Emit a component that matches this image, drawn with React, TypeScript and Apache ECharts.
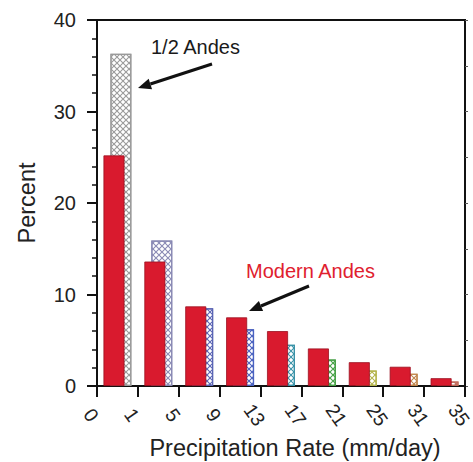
import React, { useEffect, useRef } from "react";
import * as echarts from "echarts";

const bins = ["0-1", "1-5", "5-9", "9-13", "13-17", "17-21", "21-25", "25-31", "31-35"];
const tickLabels = ["0", "1", "5", "9", "13", "17", "21", "25", "31", "35"];
const modernAndes = [25.2, 13.6, 8.7, 7.5, 6.0, 4.1, 2.6, 2.1, 0.85];
const halfAndes = [36.3, 15.9, 8.5, 6.2, 4.5, 2.9, 1.7, 1.35, 0.5];
const hatchColors = ["#9a9a9a", "#8a8ab4", "#5a64b4", "#4a62c0", "#3a92a8", "#46a046", "#b4b44c", "#c0844a", "#c06a5a"];

const FONT = "Liberation Sans, Arial, Helvetica, sans-serif";

function arrow(tail: number[], tip: number[], color: string) {
  const dx = tip[0] - tail[0];
  const dy = tip[1] - tail[1];
  const len = Math.sqrt(dx * dx + dy * dy);
  const ux = dx / len, uy = dy / len;
  const hl = 13, hw = 5.5;
  const bx = tip[0] - ux * hl, by = tip[1] - uy * hl;
  const nx = -uy * hw, ny = ux * hw;
  return [
    { type: "line", shape: { x1: tail[0], y1: tail[1], x2: bx, y2: by }, style: { stroke: color, lineWidth: 3 }, z: 100 },
    { type: "polygon", shape: { points: [tip, [bx + nx, by + ny], [bx - nx, by - ny]] }, style: { fill: color }, z: 100 },
  ];
}

export default function App() {
  const ref = useRef<HTMLDivElement>(null);
  useEffect(() => {
    document.body.style.margin = "0";
    const chart = echarts.init(ref.current!, null, { renderer: "svg" });
    const hatchPath = "path://M0,0L1.3,0L10,8.7L10,10L8.7,10L0,1.3Z M8.7,0L10,0L10,1.3L1.3,10L0,10L0,8.7Z";
    chart.setOption({
      animation: false,
      backgroundColor: "#fff",
      grid: {
        left: 97, right: 8, top: 20, bottom: 76,
        outerBoundsMode: "none",
        containLabel: false,
        show: true, borderColor: "#111", borderWidth: 2, backgroundColor: "transparent",
      },
      xAxis: [
        {
          type: "category",
          data: bins,
          boundaryGap: true,
          axisLine: { show: true, lineStyle: { color: "#111", width: 2 } },
          axisTick: { show: false },
          axisLabel: { show: false },
        },
        {
          type: "category",
          data: tickLabels,
          boundaryGap: false,
          position: "bottom",
          axisLine: { show: false },
          axisTick: { show: true, inside: false, length: 11, lineStyle: { color: "#111", width: 2 } },
          axisLabel: {
            show: true,
            rotate: -55,
            align: "center",
            verticalAlign: "middle",
            margin: 37,
            padding: [0, 20, 0, 0],
            lineHeight: 16,
            fontSize: 19.5,
            color: "#222",
            fontFamily: FONT,
          },
          name: "Precipitation Rate (mm/day)",
          nameLocation: "middle",
          nameGap: 50,
          nameMoveOverlap: false,
          nameTextStyle: { fontSize: 23.5, color: "#222", fontFamily: FONT, padding: [0, 0, 0, 28] },
        },
      ],
      yAxis: [
        {
          type: "value",
          min: 0,
          max: 40,
          interval: 10,
          position: "left",
          axisLine: { show: true, lineStyle: { color: "#111", width: 2 } },
          axisTick: { show: true, inside: false, length: 10, lineStyle: { color: "#111", width: 2 } },
          minorTick: { show: true, splitNumber: 5, length: 5, lineStyle: { color: "#111", width: 1.5 } },
          splitLine: { show: false },
          axisLabel: { fontSize: 20, color: "#222", margin: 21, fontFamily: FONT },
          name: "Percent",
          nameLocation: "middle",
          nameGap: 58,
          nameMoveOverlap: false,
          nameTextStyle: { fontSize: 23.5, color: "#222", fontFamily: FONT },
        },
        {
          type: "value",
          min: 0,
          max: 40,
          interval: 5,
          position: "right",
          axisLine: { show: true, lineStyle: { color: "#111", width: 2 } },
          axisTick: { show: true, inside: false, length: 3, lineStyle: { color: "#555", width: 1 } },
          axisLabel: { show: false },
          splitLine: { show: false },
        },
      ],
      series: [
        {
          name: "Modern Andes",
          type: "bar",
          xAxisIndex: 0,
          yAxisIndex: 0,
          data: modernAndes,
          barWidth: 21,
          z: 3,
          itemStyle: { color: "#d91a2e", borderColor: "#9a1020", borderWidth: 0.8 },
        },
        {
          name: "1/2 Andes",
          type: "bar",
          xAxisIndex: 0,
          yAxisIndex: 0,
          barWidth: 21,
          barGap: "-67%",
          z: 2,
          data: halfAndes.map((v, i) => ({
            value: v,
            itemStyle: {
              color: "#ffffff",
              borderColor: hatchColors[i],
              borderWidth: 1.2,
              decal: {
                symbol: hatchPath,
                symbolSize: 1,
                color: hatchColors[i],
                dashArrayX: [6, 0],
                dashArrayY: [6, 0],
                rotation: 0,
              },
            },
          })),
        },
      ],
      graphic: [
        { type: "text", left: 151, top: 37, style: { text: "1/2 Andes", fontSize: 20, fill: "#1a1a1a", fontFamily: FONT }, z: 100 },
        { type: "text", left: 246, top: 261, style: { text: "Modern Andes", fontSize: 20, fill: "#e0202e", fontFamily: FONT }, z: 100 },
        ...arrow([212, 64], [138, 88], "#111"),
        ...arrow([309, 286], [249, 311], "#111"),
      ],
    });
    return () => chart.dispose();
  }, []);
  return <div ref={ref} style={{ width: 473, height: 462 }} />;
}
